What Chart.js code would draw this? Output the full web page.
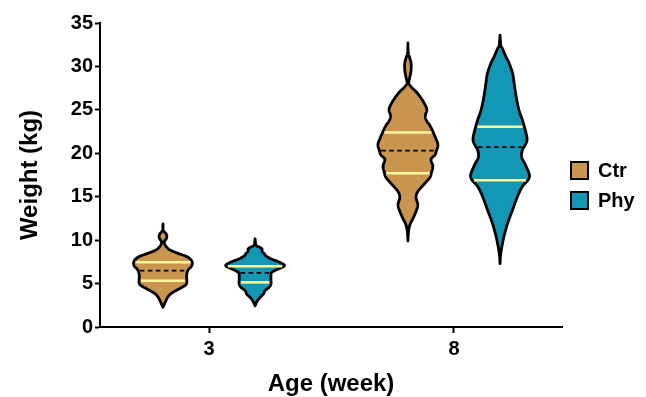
<!DOCTYPE html>
<html>
<head>
<meta charset="utf-8">
<script src="https://cdn.jsdelivr.net/npm/chart.js@4"></script>
<style>
  html, body { margin: 0; padding: 0; background: #fff; }
  #wrap { width: 646px; height: 397px; }
</style>
</head>
<body>
<div id="wrap"><canvas id="c" width="646" height="397"></canvas></div>
<script>
// Age groups on the x axis and the two study groups
const ages = ['3', '8'];
const groups = ['Ctr', 'Phy'];
const yTicks = [0, 5, 10, 15, 20, 25, 30, 35];

// Violin outlines: weight levels (kg) with relative density at each level
const ctr3Levels = [11.86, 11.2, 10.95, 10.7, 10.4, 10.1, 9.75, 9.25, 8.86, 8.48, 8.1, 7.71, 7.33, 6.94, 6.56, 6.0, 5.03, 4.64, 4.26, 3.88, 3.49, 3.11, 2.73, 2.27];
const ctr3Density = [0, 0.01, 0.05, 0.11, 0.13, 0.10, 0.04, 0.11, 0.24, 0.50, 0.80, 0.94, 0.98, 0.94, 0.84, 0.79, 0.79, 0.67, 0.47, 0.28, 0.17, 0.11, 0.06, 0];

const phy3Levels = [10.13, 9.6, 9.36, 9.17, 8.98, 8.7, 8.4, 8.21, 7.83, 7.45, 7.06, 6.68, 6.3, 5.9, 5.4, 4.95, 4.57, 4.18, 3.8, 3.42, 3.03, 2.45];
const phy3Density = [0, 0.02, 0.05, 0.16, 0.23, 0.24, 0.32, 0.35, 0.54, 0.82, 0.98, 0.77, 0.56, 0.53, 0.53, 0.53, 0.47, 0.33, 0.28, 0.17, 0.08, 0];

const ctr8Levels = [32.7, 31.6, 31.1, 30.5, 30.0, 29.4, 28.7, 28.1, 27.6, 27.1, 26.4, 25.6, 25.0, 24.3, 23.7, 23.1, 21.8, 21.0, 20.3, 19.8, 19.3, 18.5, 17.7, 17.2, 16.4, 15.6, 14.9, 14.1, 13.3, 12.5, 11.8, 11.0, 9.9];
const ctr8Density = [0, 0.01, 0.05, 0.10, 0.11, 0.10, 0.06, 0.03, 0.12, 0.27, 0.43, 0.57, 0.63, 0.58, 0.63, 0.75, 0.92, 1.0, 0.95, 0.90, 0.77, 0.83, 0.78, 0.73, 0.53, 0.33, 0.27, 0.33, 0.27, 0.17, 0.07, 0.02, 0];

const phy8Levels = [33.6, 32.5, 31.9, 31.1, 30.4, 29.2, 28.1, 26.5, 25.0, 23.8, 22.3, 21.5, 20.9, 20.4, 19.6, 18.5, 17.5, 16.9, 16.2, 15.0, 13.5, 11.9, 10.4, 9.2, 8.3, 7.3];
const phy8Density = [0, 0.03, 0.10, 0.20, 0.30, 0.42, 0.47, 0.54, 0.63, 0.75, 0.87, 0.90, 0.83, 0.75, 0.72, 0.87, 0.98, 0.93, 0.75, 0.58, 0.42, 0.25, 0.13, 0.06, 0.02, 0];

// Quartiles and medians per age (kg)
const ctrQ1 = [5.33, 17.7];
const ctrMedian = [6.5, 20.3];
const ctrQ3 = [7.45, 22.4];
const phyQ1 = [5.14, 16.9];
const phyMedian = [6.22, 20.7];
const phyQ3 = [7.0, 23.06];

const FONT = "'Liberation Sans', Arial, Helvetica, sans-serif";
const colors = { Ctr: '#C9954F', Phy: '#1297B4' };
const quartileColor = '#FFF59A';

const violinOffset = 0.188;    // shift of each group from the age position (x units)
const violinHalfWidth = 0.1224; // half width of the widest part (x units)

// Catmull-Rom smoothing of an outline profile
function smoothProfile(levels, dens, steps) {
  const pts = levels.map((v, i) => ({ v, d: dens[i] }));
  const out = [];
  for (let i = 0; i < pts.length - 1; i++) {
    const p0 = pts[Math.max(i - 1, 0)], p1 = pts[i], p2 = pts[i + 1], p3 = pts[Math.min(i + 2, pts.length - 1)];
    for (let s = 0; s < steps; s++) {
      const t = s / steps, t2 = t * t, t3 = t2 * t;
      const f = (a, b, c, d) => 0.5 * (2 * b + (-a + c) * t + (2 * a - 5 * b + 4 * c - d) * t2 + (-a + 3 * b - 3 * c + d) * t3);
      out.push({ v: f(p0.v, p1.v, p2.v, p3.v), d: Math.max(0, f(p0.d, p1.d, p2.d, p3.d)) });
    }
  }
  out.push(pts[pts.length - 1]);
  return out;
}

function densityAt(prof, level) {
  for (let i = 0; i < prof.length - 1; i++) {
    const a = prof[i], b = prof[i + 1];
    if ((a.v - level) * (b.v - level) <= 0 && a.v !== b.v) {
      const t = (level - a.v) / (b.v - a.v);
      return a.d + t * (b.d - a.d);
    }
  }
  return 0;
}

const violins = {
  Ctr: [smoothProfile(ctr3Levels, ctr3Density, 12), smoothProfile(ctr8Levels, ctr8Density, 12)],
  Phy: [smoothProfile(phy3Levels, phy3Density, 12), smoothProfile(phy8Levels, phy8Density, 12)]
};
const stats = {
  Ctr: { q1: ctrQ1, med: ctrMedian, q3: ctrQ3 },
  Phy: { q1: phyQ1, med: phyMedian, q3: phyQ3 }
};

const violinPlugin = {
  id: 'violins',
  afterDatasetsDraw(chart) {
    const { ctx, scales: { x, y } } = chart;
    groups.forEach((g, gi) => {
      const off = gi === 0 ? -violinOffset : violinOffset;
      ages.forEach((a, ai) => {
        const prof = violins[g][ai];
        const cx = x.getPixelForValue(ai + off);
        const hw = x.getPixelForValue(violinHalfWidth) - x.getPixelForValue(0);
        ctx.save();
        ctx.beginPath();
        prof.forEach((p, i) => {
          const px = cx + p.d * hw, py = y.getPixelForValue(p.v);
          if (i) ctx.lineTo(px, py); else ctx.moveTo(px, py);
        });
        for (let i = prof.length - 1; i >= 0; i--) {
          const p = prof[i];
          ctx.lineTo(cx - p.d * hw, y.getPixelForValue(p.v));
        }
        ctx.closePath();
        ctx.fillStyle = colors[g];
        ctx.fill();
        ctx.lineJoin = 'round';
        ctx.lineWidth = 2.8;
        ctx.strokeStyle = '#000';
        ctx.stroke();

        // quartile lines
        const st = stats[g];
        [st.q1[ai], st.q3[ai]].forEach(q => {
          const w = densityAt(prof, q) * hw - 1.8;
          const py = y.getPixelForValue(q);
          ctx.beginPath();
          ctx.moveTo(cx - w, py);
          ctx.lineTo(cx + w, py);
          ctx.lineWidth = 2.6;
          ctx.strokeStyle = quartileColor;
          ctx.stroke();
        });
        // median line
        const m = st.med[ai];
        const mw = densityAt(prof, m) * hw - 1.8;
        const my = y.getPixelForValue(m);
        ctx.beginPath();
        ctx.setLineDash([4.5, 3.5]);
        ctx.moveTo(cx - mw, my);
        ctx.lineTo(cx + mw, my);
        ctx.lineWidth = 1.8;
        ctx.strokeStyle = '#000';
        ctx.stroke();
        ctx.restore();
      });
    });
  },
  afterDraw(chart) {
    // legend: boxes with group names
    const ctx = chart.ctx;
    const left = chart.chartArea.right + 9;
    const top0 = 162;
    chart.data.datasets.forEach((ds, i) => {
      const ty = top0 + i * 30;
      ctx.save();
      ctx.fillStyle = ds.backgroundColor;
      ctx.fillRect(left, ty, 17, 17);
      ctx.lineWidth = 2;
      ctx.strokeStyle = '#000';
      ctx.strokeRect(left, ty, 17, 17);
      ctx.fillStyle = '#000';
      ctx.font = 'bold 20px ' + FONT;
      ctx.textBaseline = 'middle';
      ctx.textAlign = 'left';
      ctx.fillText(ds.label, left + 27, ty + 9);
      ctx.restore();
    });
  }
};

new Chart(document.getElementById('c'), {
  type: 'scatter',
  data: {
    datasets: [
      { label: groups[0], backgroundColor: colors.Ctr, data: ctrMedian.map((v, i) => ({ x: i - violinOffset, y: v })), pointRadius: 0 },
      { label: groups[1], backgroundColor: colors.Phy, data: phyMedian.map((v, i) => ({ x: i + violinOffset, y: v })), pointRadius: 0 }
    ]
  },
  options: {
    responsive: false,
    animation: false,
    devicePixelRatio: 1,
    layout: { padding: { top: 23, right: 84, bottom: 0, left: 0 } },
    plugins: { legend: { display: false }, tooltip: { enabled: false } },
    scales: {
      x: {
        type: 'linear',
        min: -0.445,
        max: 1.441,
        afterBuildTicks: s => { s.ticks = ages.map((a, i) => ({ value: i })); },
        afterFit: s => { s.height = 70; },
        ticks: {
          callback: (v) => ages[v],
          color: '#000',
          font: { family: FONT, size: 20, weight: 'bold' },
          padding: 4,
          maxRotation: 0
        },
        grid: { drawOnChartArea: false, drawTicks: true, tickLength: 6, tickWidth: 2, tickColor: '#000' },
        border: { display: true, color: '#000', width: 2 },
        title: {
          display: true,
          text: 'Age (week)',
          color: '#000',
          font: { family: FONT, size: 24, weight: 'bold' },
          padding: { top: 0, bottom: -2 }
        }
      },
      y: {
        type: 'linear',
        min: 0,
        max: 35,
        afterBuildTicks: s => { s.ticks = yTicks.map(v => ({ value: v })); },
        afterFit: s => { s.width = 100; },
        ticks: {
          color: '#000',
          font: { family: FONT, size: 20, weight: 'bold' },
          padding: 2
        },
        grid: { drawOnChartArea: false, drawTicks: true, tickLength: 5, tickWidth: 2, tickColor: '#000' },
        border: { display: true, color: '#000', width: 2 },
        title: {
          display: true,
          text: 'Weight (kg)',
          color: '#000',
          font: { family: FONT, size: 24, weight: 'bold' },
          padding: { top: 16, bottom: 0 }
        }
      }
    }
  },
  plugins: [violinPlugin]
});
</script>
</body>
</html>
